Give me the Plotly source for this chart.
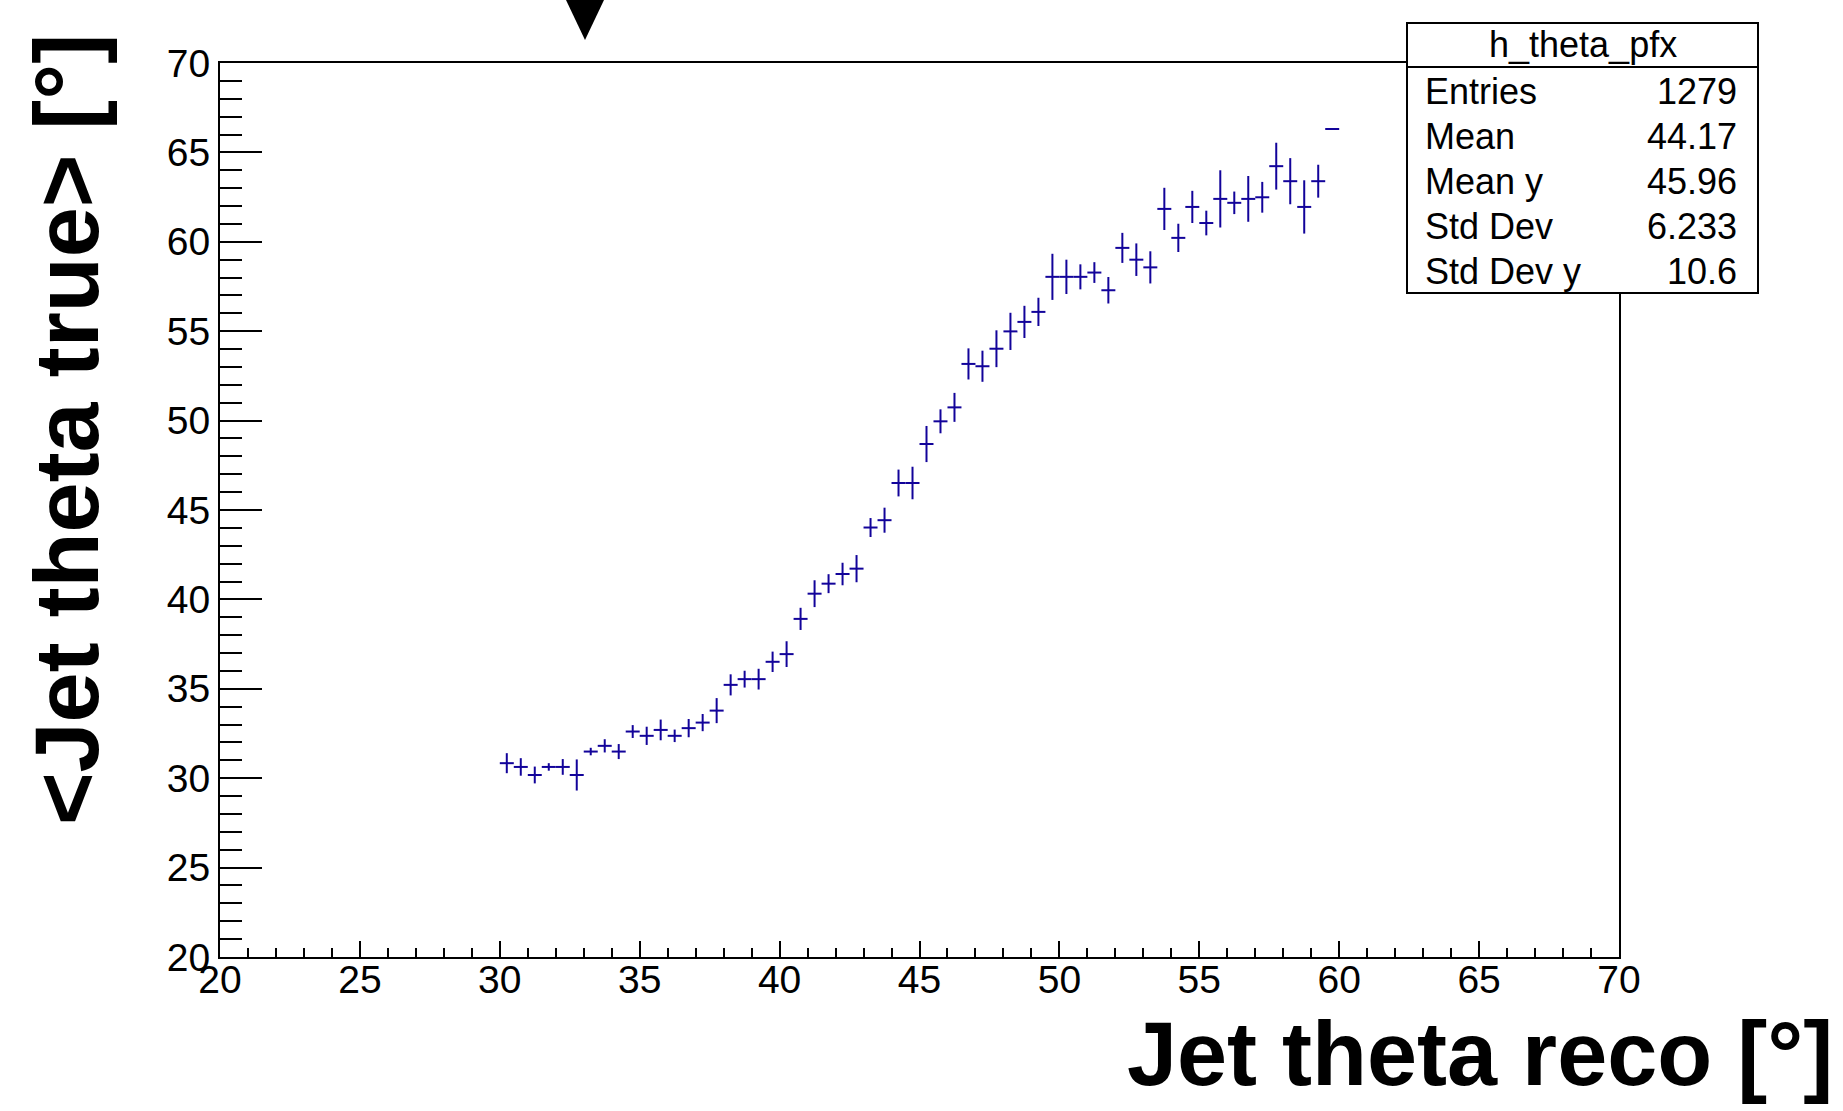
import plotly.graph_objects as go

# ---- data ----
bin_centers = [30.25, 30.75, 31.25, 31.75, 32.25, 32.75, 33.25, 33.75, 34.25, 34.75,
               35.25, 35.75, 36.25, 36.75, 37.25, 37.75, 38.25, 38.75, 39.25, 39.75,
               40.25, 40.75, 41.25, 41.75, 42.25, 42.75, 43.25, 43.75, 44.25, 44.75,
               45.25, 45.75, 46.25, 46.75, 47.25, 47.75, 48.25, 48.75, 49.25, 49.75,
               50.25, 50.75, 51.25, 51.75, 52.25, 52.75, 53.25, 53.75, 54.25, 54.75,
               55.25, 55.75, 56.25, 56.75, 57.25, 57.75, 58.25, 58.75, 59.25, 59.75]
mean_true = [30.84, 30.63, 30.18, 30.63, 30.63, 30.18, 31.49, 31.81, 31.49, 32.61,
             32.37, 32.70, 32.37, 32.80, 33.11, 33.78, 35.22, 35.54, 35.54, 36.51,
             36.94, 38.91, 40.32, 40.88, 41.42, 41.72, 44.02, 44.43, 46.51, 46.51,
             48.69, 49.96, 50.74, 53.17, 53.04, 54.02, 54.99, 55.52, 56.08, 58.04,
             58.04, 58.04, 58.28, 57.29, 59.66, 59.00, 58.57, 61.84, 60.22, 61.95,
             61.05, 62.40, 62.18, 62.40, 62.49, 64.23, 63.39, 61.95, 63.39, 66.31]
err_true = [0.56, 0.49, 0.47, 0.21, 0.44, 0.87, 0.21, 0.37, 0.42, 0.36,
            0.51, 0.58, 0.35, 0.51, 0.48, 0.70, 0.59, 0.47, 0.58, 0.57,
            0.72, 0.62, 0.75, 0.53, 0.63, 0.76, 0.53, 0.70, 0.75, 0.91,
            1.01, 0.67, 0.81, 0.87, 0.87, 1.03, 1.04, 0.90, 0.79, 1.29,
            0.96, 0.70, 0.58, 0.74, 0.84, 0.91, 0.90, 1.18, 0.79, 0.90,
            0.69, 1.60, 0.63, 1.28, 0.86, 1.31, 1.29, 1.49, 0.92, 0.0]
bin_half_width = 0.25

stats_title = "h_theta_pfx"
stats_labels = ["Entries", "Mean", "Mean y", "Std Dev", "Std Dev y"]
stats_values = ["1279", "44.17", "45.96", "6.233", "10.6"]

x_title = "Jet theta reco [°]"
y_title = "&lt;Jet theta true&gt; [°]"

# ---- layout geometry (pixels) ----
W, H = 1843, 1111
L, R, T, B = 220, 1619, 63, 957
FONT = "Liberation Sans, Arial, Helvetica, sans-serif"
COLOR = "#12039a"


def px(x):
    return (x - L) / (R - L)


def py(y):
    return (B - y) / (B - T)


fig = go.Figure()
fig.add_trace(go.Scatter(
    x=bin_centers, y=mean_true, mode="markers",
    marker=dict(size=1, color=COLOR, opacity=0),
    error_x=dict(type="constant", value=bin_half_width, color=COLOR, thickness=2, width=0),
    error_y=dict(type="data", array=err_true, visible=True, color=COLOR, thickness=2, width=0),
    showlegend=False, hoverinfo="x+y",
))

axis_common = dict(
    showgrid=False, zeroline=False, showline=True, linecolor="black", linewidth=2,
    mirror=True, ticks="inside", tickcolor="black", tickwidth=1.5,
    tickfont=dict(family=FONT, size=39, color="black"),
)
fig.update_xaxes(range=[20, 70], dtick=5, tick0=20, ticklen=16, ticklabelstandoff=-13,
                 minor=dict(dtick=1, ticks="inside", ticklen=9, tickcolor="black", tickwidth=1.5),
                 **axis_common)
fig.update_yaxes(range=[20, 70], dtick=5, tick0=20, ticklen=42, ticklabelstandoff=0,
                 minor=dict(dtick=1, ticks="inside", ticklen=22, tickcolor="black", tickwidth=1.5),
                 **axis_common)

shapes = []
annotations = []

# stats box
bx0, bx1, by0, by1, bsep = 1407, 1758, 23, 293, 67
shapes.append(dict(type="rect", xref="paper", yref="paper", x0=px(bx0), x1=px(bx1),
                   y0=py(by1), y1=py(by0), fillcolor="white", line=dict(color="black", width=2),
                   layer="above"))
shapes.append(dict(type="line", xref="paper", yref="paper", x0=px(bx0), x1=px(bx1),
                   y0=py(bsep), y1=py(bsep), line=dict(color="black", width=2), layer="above"))
annotations.append(dict(text=stats_title, xref="paper", yref="paper", x=px((bx0 + bx1) / 2),
                        y=py((by0 + bsep) / 2), xanchor="center", yanchor="middle", showarrow=False,
                        font=dict(family=FONT, size=36, color="black")))
row_h = (by1 - bsep) / len(stats_labels)
for i, (lab, val) in enumerate(zip(stats_labels, stats_values)):
    yc = bsep + row_h * (i + 0.5) + 1.5
    annotations.append(dict(text=lab, xref="paper", yref="paper", x=px(1423), y=py(yc),
                            xanchor="left", yanchor="middle", showarrow=False,
                            font=dict(family=FONT, size=36, color="black")))
    annotations.append(dict(text=val, xref="paper", yref="paper", x=px(1739), y=py(yc),
                            xanchor="right", yanchor="middle", showarrow=False,
                            font=dict(family=FONT, size=36, color="black")))

# axis titles
annotations.append(dict(text=x_title, xref="paper", yref="paper", x=px(1835), y=py(1054),
                        xanchor="right", yanchor="middle", showarrow=False,
                        font=dict(family=FONT, size=90, color="black", weight="bold")))
annotations.append(dict(text=y_title, xref="paper", yref="paper", x=px(67), y=py(430),
                        xanchor="center", yanchor="middle", textangle=-90, showarrow=False,
                        font=dict(family=FONT, size=90, color="black", weight="bold")))

# black triangle marker at the top edge
tri = f"M {px(566)} {py(0)} L {px(604)} {py(0)} L {px(585)} {py(40)} Z"
shapes.append(dict(type="path", xref="paper", yref="paper", path=tri,
                   fillcolor="black", line=dict(color="black", width=0)))

fig.update_layout(
    width=W, height=H, margin=dict(l=L, r=W - R, t=T, b=H - B),
    paper_bgcolor="white", plot_bgcolor="white",
    shapes=shapes, annotations=annotations,
    font=dict(family=FONT, color="black"),
)

fig.write_html("out.html")
